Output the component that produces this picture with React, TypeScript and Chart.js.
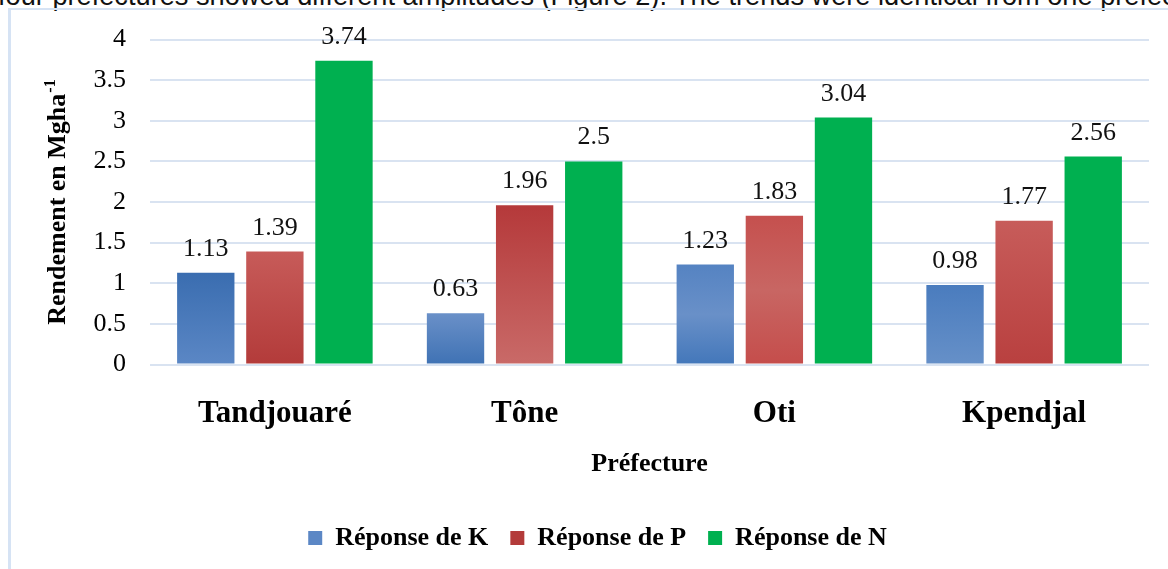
import React, { useEffect, useRef } from "react";
import { Chart, registerables } from "chart.js";

Chart.register(...registerables);

// ---- data ----
const categories = ["Tandjouaré", "Tône", "Oti", "Kpendjal"];
const seriesNames = ["Réponse de K", "Réponse de P", "Réponse de N"];
const reponseK = [1.13, 0.63, 1.23, 0.98];
const reponseP = [1.39, 1.96, 1.83, 1.77];
const reponseN = [3.74, 2.5, 3.04, 2.56];
const yTicks = [0, 0.5, 1, 1.5, 2, 2.5, 3, 3.5, 4];
const yTitle = "Rendement en Mgha";
const yTitleSup = "-1";
const xTitle = "Préfecture";
const headerText =
  "four prefectures showed different amplitudes (Figure 2). The trends were identical from one prefecture to another";

// ---- styles ----
const SERIF = "'Liberation Serif', 'Times New Roman', serif";
const legendColors = ["#4a7bbf", "#c0504d", "#00b050"];
const gradientStops: string[][][] = [
  [
    ["#3a6db0", "#5b87c5"],
    ["#6a90c8", "#3f72b4"],
    ["#5583c2", "#6990c8", "#4377ba"],
    ["#4a7cbe", "#6690c8"],
  ],
  [
    ["#c75b59", "#b33b3a"],
    ["#b5393a", "#c96a68"],
    ["#c5504e", "#c86663", "#c54d4b"],
    ["#c75c5a", "#b9403f"],
  ],
  [["#00b050"], ["#00b050"], ["#00b050"], ["#00b050"]],
];

const makeBg = (di: number) => (c: any) => {
  if (c.type !== "data") return legendColors[di];
  const chart = c.chart;
  const ys = chart.scales && chart.scales.y;
  if (!chart.chartArea || !ys) return legendColors[di];
  const stops = gradientStops[di][c.dataIndex];
  if (stops.length === 1) return stops[0];
  const top = ys.getPixelForValue(c.raw);
  const base = ys.getPixelForValue(0);
  if (!isFinite(top) || !isFinite(base) || top === base) return stops[0];
  const g = chart.ctx.createLinearGradient(0, top, 0, base);
  stops.forEach((s, i) => g.addColorStop(i / (stops.length - 1), s));
  return g;
};

const valueLabels = {
  id: "valueLabels",
  afterDatasetsDraw(chart: any) {
    const ctx = chart.ctx;
    ctx.save();
    ctx.font = `26px ${SERIF}`;
    ctx.fillStyle = "#111";
    ctx.textAlign = "center";
    ctx.textBaseline = "alphabetic";
    chart.data.datasets.forEach((ds: any, di: number) => {
      chart.getDatasetMeta(di).data.forEach((el: any, i: number) => {
        ctx.fillText(String(ds.data[i]), el.x, el.y - 17);
      });
    });
    ctx.restore();
  },
};

const yAxisTitle = {
  id: "yAxisTitle",
  afterDraw(chart: any) {
    const ctx = chart.ctx;
    const a = chart.chartArea;
    const cy = (a.top + a.bottom) / 2;
    ctx.save();
    ctx.translate(65, cy);
    ctx.rotate(-Math.PI / 2);
    ctx.fillStyle = "#000";
    ctx.textAlign = "left";
    ctx.textBaseline = "alphabetic";
    ctx.font = `bold 26px ${SERIF}`;
    const w1 = ctx.measureText(yTitle).width;
    ctx.font = `bold 16px ${SERIF}`;
    const w2 = ctx.measureText(yTitleSup).width;
    const x0 = -(w1 + w2 + 1) / 2;
    ctx.font = `bold 26px ${SERIF}`;
    ctx.fillText(yTitle, x0, 0);
    ctx.font = `bold 16px ${SERIF}`;
    ctx.fillText(yTitleSup, x0 + w1 + 1, -10);
    ctx.restore();
  },
};

export default function App() {
  const ref = useRef<HTMLCanvasElement | null>(null);

  useEffect(() => {
    if (!ref.current) return;
    const seriesData = [reponseK, reponseP, reponseN];
    const chart = new Chart(ref.current, {
      type: "bar",
      data: {
        labels: categories,
        datasets: seriesData.map((d, di) => ({
          label: seriesNames[di],
          data: d,
          backgroundColor: makeBg(di),
          borderWidth: 0,
          categoryPercentage: 0.83,
          barPercentage: 0.83,
        })),
      },
      options: {
        responsive: false,
        animation: false,
        devicePixelRatio: 1,
        layout: { padding: { left: 46, right: 19, top: 37, bottom: 8 } },
        plugins: {
          tooltip: { enabled: false },
          legend: {
            position: "bottom",
            labels: {
              font: { family: SERIF, size: 26, weight: "bold" },
              color: "#000",
              boxWidth: 14,
              boxHeight: 14,
              padding: 22,
            },
          },
        },
        scales: {
          x: {
            grid: { display: false },
            border: { display: false },
            ticks: {
              font: { family: SERIF, size: 31, weight: "bold" },
              color: "#000",
              padding: 23,
            },
            title: {
              display: true,
              text: xTitle,
              font: { family: SERIF, size: 26, weight: "bold" },
              color: "#000",
              padding: { top: 0, bottom: 23 },
            },
            afterFit(s: any) {
              s.height = 138.5;
            },
          },
          y: {
            min: 0,
            max: 4,
            afterBuildTicks(s: any) {
              s.ticks = yTicks.map((v) => ({ value: v }));
            },
            grid: { color: "#d9e3f1", lineWidth: 2, drawTicks: false },
            border: { display: false },
            ticks: {
              font: { family: SERIF, size: 26 },
              color: "#000",
              padding: 24,
              callback: (v: any) => String(v),
            },
            afterFit(s: any) {
              s.width = 104;
            },
          },
        },
      } as any,
      plugins: [valueLabels, yAxisTitle],
    });
    return () => chart.destroy();
  }, []);

  return (
    <div
      style={{
        position: "fixed",
        left: 0,
        top: 0,
        width: 1168,
        height: 569,
        overflow: "hidden",
        background: "#fff",
      }}
    >
      <div
        style={{
          position: "absolute",
          left: -2,
          top: -18,
          whiteSpace: "nowrap",
          fontFamily: "'Liberation Sans', Arial, sans-serif",
          fontSize: 27.2,
          lineHeight: "27px",
          color: "#111",
        }}
      >
        {headerText}
      </div>
      <div
        style={{
          position: "absolute",
          left: 8,
          top: 8,
          width: 1200,
          height: 600,
          borderLeft: "3px solid #d6e3f4",
          borderTop: "2px solid #d6e3f4",
        }}
      />
      <canvas
        ref={ref}
        width={1168}
        height={569}
        style={{ position: "absolute", left: 0, top: 0, width: 1168, height: 569 }}
      />
    </div>
  );
}
